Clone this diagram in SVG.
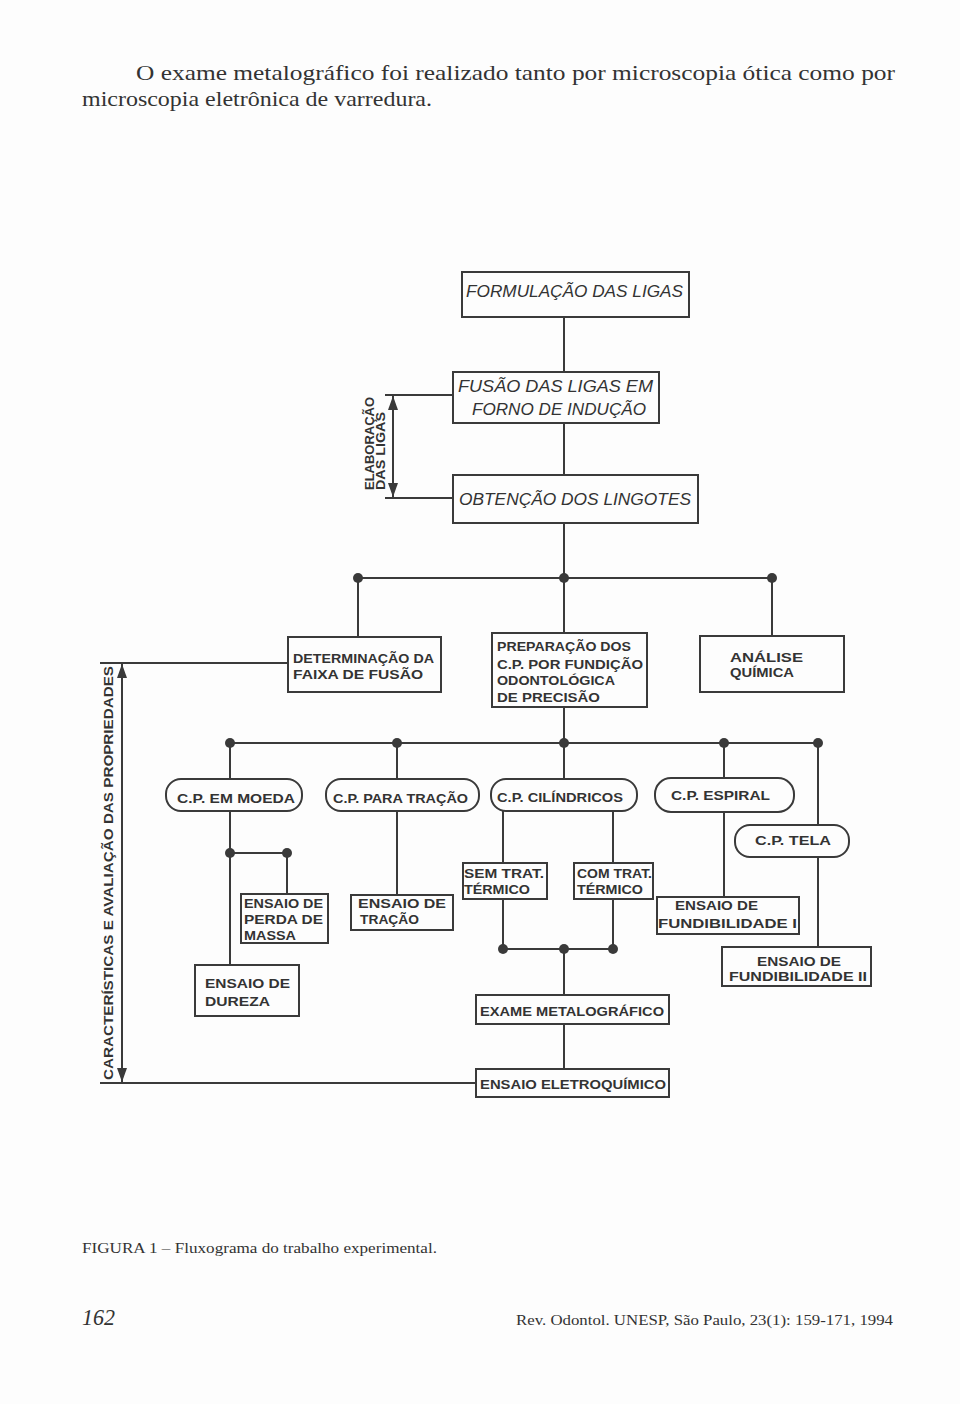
<svg xmlns="http://www.w3.org/2000/svg" width="960" height="1404" viewBox="0 0 960 1404">
<style>
.bg{fill:#fdfdfd}
.box{fill:none;stroke:#3a3a3a;stroke-width:2}
.ln{fill:none;stroke:#3a3a3a;stroke-width:2}
.dot{fill:#3a3a3a}
.ah{fill:#3a3a3a}
.it{font-family:"Liberation Sans",Arial,sans-serif;font-style:italic;font-size:17px;fill:#333}
.t{font-family:"Liberation Sans",Arial,sans-serif;font-weight:bold;font-size:13px;fill:#333}
.v{font-family:"Liberation Sans",Arial,sans-serif;font-weight:bold;font-size:12px;fill:#333}
.body{font-family:"Liberation Serif","Times New Roman",serif;font-size:21px;fill:#333}
.cap{font-family:"Liberation Serif","Times New Roman",serif;font-size:15px;fill:#333}
.pg{font-family:"Liberation Serif","Times New Roman",serif;font-style:italic;font-size:23px;fill:#333}
</style>
<rect class="bg" x="0" y="0" width="960" height="1404"/>

<g id="page-text">
<text class="body" x="136" y="80" textLength="759" lengthAdjust="spacingAndGlyphs">O exame metalográfico foi realizado tanto por microscopia ótica como por</text>
<text class="body" x="82" y="106" textLength="350" lengthAdjust="spacingAndGlyphs">microscopia eletrônica de varredura.</text>
<text class="cap" x="82" y="1253" textLength="355" lengthAdjust="spacingAndGlyphs">FIGURA 1 – Fluxograma do trabalho experimental.</text>
<text class="pg" x="82" y="1325" textLength="33" lengthAdjust="spacingAndGlyphs">162</text>
<text class="cap" x="516" y="1325" textLength="377" lengthAdjust="spacingAndGlyphs">Rev. Odontol. UNESP, São Paulo, 23(1): 159-171, 1994</text>
</g>

<g id="connectors">
<path class="ln" d="M564 317V372M564 423V475M564 523V633M564 707V779"/>
<path class="ln" d="M358 578H772M358 578V637M772 578V636"/>
<path class="ln" d="M230 743H818M230 743V779M397 743V779M724 743V778M818 743V825"/>
<path class="ln" d="M230 811V965M230 853H287M287 853V894M397 811V895"/>
<path class="ln" d="M503 811V863M503 899V949M613 811V863M613 899V949M503 949H613M564 949V995M564 1024V1069"/>
<path class="ln" d="M724 812V897M818 857V947"/>
<path class="ln" d="M100 663H288M122 663V1083M100 1083H476"/>
<path class="ln" d="M385 395H453M385 498H453M393 395V498"/>
<polygon class="ah" points="122,664 117,678 127,678"/>
<polygon class="ah" points="122,1082 117,1068 127,1068"/>
<polygon class="ah" points="393,396 388,410 398,410"/>
<polygon class="ah" points="393,497 388,483 398,483"/>
<circle class="dot" cx="358" cy="578" r="5"/>
<circle class="dot" cx="564" cy="578" r="5"/>
<circle class="dot" cx="772" cy="578" r="5"/>
<circle class="dot" cx="230" cy="743" r="5"/>
<circle class="dot" cx="397" cy="743" r="5"/>
<circle class="dot" cx="564" cy="743" r="5"/>
<circle class="dot" cx="724" cy="743" r="5"/>
<circle class="dot" cx="818" cy="743" r="5"/>
<circle class="dot" cx="230" cy="853" r="5"/>
<circle class="dot" cx="287" cy="853" r="5"/>
<circle class="dot" cx="503" cy="949" r="5"/>
<circle class="dot" cx="564" cy="949" r="5"/>
<circle class="dot" cx="613" cy="949" r="5"/>
</g>

<g id="label-elaboracao">
<text class="v" transform="translate(374,490) rotate(-90)" textLength="93" lengthAdjust="spacingAndGlyphs">ELABORAÇÃO</text>
<text class="v" font-size="11" transform="translate(385,490) rotate(-90)" textLength="78" lengthAdjust="spacingAndGlyphs">DAS LIGAS</text>
</g>
<g id="label-caracteristicas">
<text class="v" font-size="15" transform="translate(113,1080) rotate(-90)" textLength="414" lengthAdjust="spacingAndGlyphs">CARACTERÍSTICAS E AVALIAÇÃO DAS PROPRIEDADES</text>
</g>

<g id="n-formulacao">
<rect class="box" x="462" y="272" width="227" height="45"/>
<text class="it" x="466" y="297" textLength="217" lengthAdjust="spacingAndGlyphs">FORMULAÇÃO DAS LIGAS</text>
</g>
<g id="n-fusao">
<rect class="box" x="453" y="372" width="206" height="51"/>
<text class="it" x="458" y="392" textLength="195" lengthAdjust="spacingAndGlyphs">FUSÃO DAS LIGAS EM</text>
<text class="it" x="472" y="415" textLength="174" lengthAdjust="spacingAndGlyphs">FORNO DE INDUÇÃO</text>
</g>
<g id="n-obtencao">
<rect class="box" x="453" y="475" width="245" height="48"/>
<text class="it" x="459" y="505" textLength="232" lengthAdjust="spacingAndGlyphs">OBTENÇÃO DOS LINGOTES</text>
</g>
<g id="n-determinacao">
<rect class="box" x="288" y="637" width="153" height="55"/>
<text class="t" x="293" y="663" textLength="141" lengthAdjust="spacingAndGlyphs">DETERMINAÇÃO DA</text>
<text class="t" x="293" y="679" textLength="130" lengthAdjust="spacingAndGlyphs">FAIXA DE FUSÃO</text>
</g>
<g id="n-preparacao">
<rect class="box" x="492" y="633" width="155" height="74"/>
<text class="t" x="497" y="651" textLength="134" lengthAdjust="spacingAndGlyphs">PREPARAÇÃO DOS</text>
<text class="t" x="497" y="669" textLength="146" lengthAdjust="spacingAndGlyphs">C.P. POR FUNDIÇÃO</text>
<text class="t" x="497" y="685" textLength="118" lengthAdjust="spacingAndGlyphs">ODONTOLÓGICA</text>
<text class="t" x="497" y="702" textLength="103" lengthAdjust="spacingAndGlyphs">DE PRECISÃO</text>
</g>
<g id="n-analise">
<rect class="box" x="700" y="636" width="144" height="56"/>
<text class="t" x="730" y="662" textLength="73" lengthAdjust="spacingAndGlyphs">ANÁLISE</text>
<text class="t" x="730" y="677" textLength="64" lengthAdjust="spacingAndGlyphs">QUÍMICA</text>
</g>
<g id="n-moeda">
<rect class="box" x="166" y="779" width="136" height="32" rx="15"/>
<text class="t" x="177" y="803" textLength="118" lengthAdjust="spacingAndGlyphs">C.P. EM MOEDA</text>
</g>
<g id="n-tracao">
<rect class="box" x="326" y="779" width="153" height="32" rx="15"/>
<text class="t" x="333" y="803" textLength="135" lengthAdjust="spacingAndGlyphs">C.P. PARA TRAÇÃO</text>
</g>
<g id="n-cilindricos">
<rect class="box" x="491" y="779" width="146" height="32" rx="15"/>
<text class="t" x="497" y="802" textLength="126" lengthAdjust="spacingAndGlyphs">C.P. CILÍNDRICOS</text>
</g>
<g id="n-espiral">
<rect class="box" x="655" y="778" width="139" height="34" rx="16"/>
<text class="t" x="671" y="800" textLength="99" lengthAdjust="spacingAndGlyphs">C.P. ESPIRAL</text>
</g>
<g id="n-tela">
<rect class="box" x="735" y="825" width="114" height="32" rx="15"/>
<text class="t" x="755" y="845" textLength="76" lengthAdjust="spacingAndGlyphs">C.P. TELA</text>
</g>
<g id="n-perda">
<rect class="box" x="241" y="894" width="87" height="49"/>
<text class="t" x="244" y="908" textLength="79" lengthAdjust="spacingAndGlyphs">ENSAIO DE</text>
<text class="t" x="244" y="924" textLength="79" lengthAdjust="spacingAndGlyphs">PERDA DE</text>
<text class="t" x="244" y="940" textLength="52" lengthAdjust="spacingAndGlyphs">MASSA</text>
</g>
<g id="n-dureza">
<rect class="box" x="195" y="965" width="104" height="51"/>
<text class="t" x="205" y="988" textLength="85" lengthAdjust="spacingAndGlyphs">ENSAIO DE</text>
<text class="t" x="205" y="1006" textLength="65" lengthAdjust="spacingAndGlyphs">DUREZA</text>
</g>
<g id="n-ensaio-tracao">
<rect class="box" x="351" y="895" width="102" height="35"/>
<text class="t" x="358" y="908" textLength="88" lengthAdjust="spacingAndGlyphs">ENSAIO DE</text>
<text class="t" x="360" y="924" textLength="59" lengthAdjust="spacingAndGlyphs">TRAÇÃO</text>
</g>
<g id="n-sem-trat">
<rect class="box" x="463" y="863" width="84" height="36"/>
<text class="t" font-weight="normal" x="464" y="878" textLength="80" lengthAdjust="spacingAndGlyphs">SEM TRAT.</text>
<text class="t" font-weight="normal" x="464" y="894" textLength="66" lengthAdjust="spacingAndGlyphs">TÉRMICO</text>
</g>
<g id="n-com-trat">
<rect class="box" x="574" y="863" width="79" height="36"/>
<text class="t" font-weight="normal" x="577" y="878" textLength="75" lengthAdjust="spacingAndGlyphs">COM TRAT.</text>
<text class="t" font-weight="normal" x="577" y="894" textLength="66" lengthAdjust="spacingAndGlyphs">TÉRMICO</text>
</g>
<g id="n-fund1">
<rect class="box" x="657" y="897" width="142" height="37"/>
<text class="t" x="675" y="910" textLength="83" lengthAdjust="spacingAndGlyphs">ENSAIO DE</text>
<text class="t" x="658" y="928" textLength="139" lengthAdjust="spacingAndGlyphs">FUNDIBILIDADE I</text>
</g>
<g id="n-fund2">
<rect class="box" x="722" y="947" width="149" height="39"/>
<text class="t" x="757" y="966" textLength="84" lengthAdjust="spacingAndGlyphs">ENSAIO DE</text>
<text class="t" x="729" y="981" textLength="138" lengthAdjust="spacingAndGlyphs">FUNDIBILIDADE II</text>
</g>
<g id="n-exame">
<rect class="box" x="476" y="995" width="193" height="29"/>
<text class="t" x="480" y="1016" textLength="184" lengthAdjust="spacingAndGlyphs">EXAME METALOGRÁFICO</text>
</g>
<g id="n-eletroquimico">
<rect class="box" x="476" y="1069" width="193" height="28"/>
<text class="t" x="480" y="1089" textLength="186" lengthAdjust="spacingAndGlyphs">ENSAIO ELETROQUÍMICO</text>
</g>
</svg>
